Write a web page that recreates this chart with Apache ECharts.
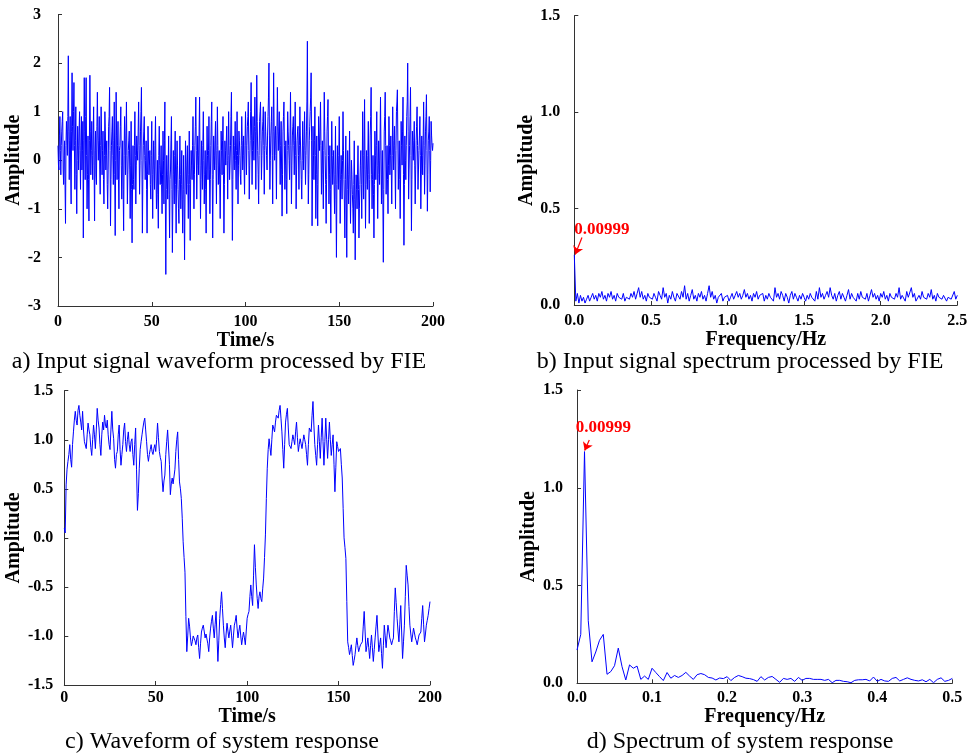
<!DOCTYPE html>
<html>
<head>
<meta charset="utf-8">
<script src="https://cdn.jsdelivr.net/npm/echarts@6/dist/echarts.min.js"></script>
<style>html,body{margin:0;padding:0;background:#fff;}#c{width:974px;height:756px;}</style>
</head>
<body>
<div id="c"></div>
<script>
// ---------- DATA ----------
// a) input waveform: samples every 0.5 s (aValues) plus the in-between samples at +0.25 s (aMidValues)
const aStep = 0.5; // s
const aValues = [
0.3,-0.2,0.9,-0.3,0.6,1.0,-0.5,0.4,-1.3,0.8,0.1,2.15,-0.4,0.9,-0.9,1.8,0.2,1.6,-0.6,1.1,
-1.1,0.7,-0.2,1.0,-0.6,0.9,0.2,-1.6,1.7,-0.4,1.7,-1.0,0.5,-1.25,1.75,-0.3,0.8,-0.4,1.1,-1.25,
0.6,-0.5,1.4,0.0,0.9,-0.7,1.1,-0.3,0.6,-0.9,1.0,-0.2,0.4,-1.0,0.7,1.5,-1.35,0.3,0.9,-0.5,
1.2,-1.55,1.4,-0.4,0.8,-1.0,0.3,1.1,-0.8,0.4,-1.45,0.9,-0.3,1.2,-0.9,0.2,0.6,-1.2,0.8,-1.7,
0.3,-0.6,1.0,-0.9,0.5,0.0,1.2,-0.7,0.6,1.5,-1.5,0.3,0.9,-0.4,0.4,-1.5,0.7,-0.3,0.2,-0.8,
0.8,-1.2,0.4,-0.6,0.9,-1.0,0.0,-1.4,0.7,-0.5,0.3,-1.1,0.6,-0.9,1.2,-2.35,0.1,-0.8,0.5,-1.6,
-0.2,0.9,-1.9,0.2,-0.9,0.6,-1.5,0.4,-0.6,-1.3,0.5,-1.0,0.2,-1.5,0.1,-2.05,0.4,-0.7,0.3,-1.2,
0.6,-1.65,0.2,-0.4,0.9,-1.0,0.3,1.3,-0.8,0.5,-0.3,1.3,-1.2,0.4,-0.6,1.0,-0.9,0.2,-1.5,0.7,
-0.4,0.9,-1.1,0.3,1.2,-1.6,0.5,-0.2,0.8,-0.9,1.1,-0.5,0.2,-1.2,0.6,-0.3,0.9,-1.5,0.4,-0.1,
0.7,-0.8,1.0,-0.4,0.3,1.4,-1.65,0.5,-0.2,0.8,-0.6,1.0,-0.9,0.6,0.1,-0.5,0.9,-0.2,0.5,-0.7,
1.0,-0.3,0.7,1.2,-0.8,0.4,1.6,-0.5,0.9,0.0,1.3,-0.6,1.75,0.2,-0.9,0.8,1.2,-0.4,0.6,1.1,
-0.7,1.0,0.3,-0.2,0.9,2.0,-0.6,0.5,1.1,-0.9,1.8,0.0,0.7,-0.8,1.5,0.2,1.0,-0.5,0.8,-1.15,
0.6,1.2,-0.6,0.4,-1.1,1.0,0.3,-0.4,1.4,-0.9,0.5,0.9,-0.3,1.2,-1.0,0.4,0.7,-0.6,1.1,0.0,
-0.8,0.8,-0.2,1.0,-0.5,0.6,2.45,-0.9,0.4,1.0,1.8,-1.35,0.7,-0.4,1.1,-1.2,0.5,-1.35,0.9,0.2,
1.2,-0.7,0.4,-1.0,1.4,0.1,-1.3,0.6,1.25,-0.9,0.3,-1.5,0.8,-0.5,0.2,-1.1,0.7,-2.0,0.3,-0.6,
0.9,-1.3,0.1,-0.8,1.0,-0.4,-1.6,0.5,-2.0,0.2,-0.9,0.6,-1.3,0.0,-0.7,-1.5,0.4,-2.05,-0.3,-1.0,
0.3,-1.6,-0.5,0.2,-1.2,1.0,-0.8,1.25,-1.4,0.2,-0.6,0.8,-1.3,0.5,1.5,-1.0,0.1,-1.6,0.6,-0.4,
1.0,-1.2,0.4,-0.5,1.3,-0.9,0.2,-2.1,0.6,1.4,-0.7,0.3,-1.1,0.9,-0.3,0.5,-0.9,1.1,-0.2,0.7,
-1.0,1.0,1.45,-0.6,0.4,-1.2,0.8,-0.1,1.3,-1.75,0.5,-0.4,0.9,2.0,-0.8,0.3,1.5,-1.45,0.6,0.0,
0.8,-0.9,0.4,1.1,-0.6,0.2,0.9,-1.0,0.5,-0.3,1.2,-0.7,0.6,1.35,-1.05,0.4,0.9,-0.65,0.8,0.3,0.35
];
const aMidValues = [
-0.1,0.5,0.2,0.3,0.8,-0.2,0.1,-0.5,0.3,0.5,0.9,0.6,0.4,-0.2,0.6,0.7,1.0,0.3,0.4,-0.3,
0.0,0.3,0.6,0.2,0.3,-0.2,0.8,0.4,0.6,0.9,0.1,-0.3,-0.4,0.4,0.6,0.2,0.1,0.5,-0.1,0.2,
-0.3,0.7,0.5,0.4,-0.2,0.3,0.5,0.2,-0.4,0.1,0.6,0.1,-0.5,-0.2,0.9,0.2,-0.4,0.6,0.1,0.4,
-0.3,0.0,0.5,0.3,-0.4,0.2,0.7,-0.1,-0.2,-0.6,0.1,0.4,0.5,0.1,-0.3,0.4,-0.2,-0.1,-0.6,-0.5,
-0.4,0.3,0.1,-0.1,0.2,0.6,0.3,-0.1,1.0,0.0,-0.4,0.6,0.1,0.0,-0.6,-0.3,0.2,-0.1,-0.5,0.1,
-0.3,-0.2,-0.1,0.3,-0.2,-0.6,-0.7,0.1,-0.1,-0.2,-0.5,-0.3,0.0,0.4,-0.8,-0.6,-0.3,-0.2,-0.7,-0.4,
0.4,-0.6,-0.8,-0.3,0.1,-0.5,-0.2,-0.1,-1.0,-0.4,-0.3,-0.5,-0.8,-0.6,-0.9,-0.7,-0.2,-0.1,-0.5,-0.3,
-0.5,-0.4,-0.1,0.3,-0.2,-0.3,0.7,0.2,-0.1,0.1,0.6,-0.1,-0.4,-0.1,0.3,0.0,-0.3,-0.6,-0.2,0.1,
0.2,-0.2,-0.4,0.8,-0.3,-0.4,0.1,0.4,-0.1,0.2,0.3,-0.1,-0.5,-0.3,0.2,0.4,-0.3,-0.5,0.2,0.4,
0.0,0.1,0.3,-0.1,0.9,-0.2,-0.4,0.1,0.3,0.0,0.2,0.1,-0.1,0.4,-0.3,0.3,0.4,0.1,-0.2,0.3,
0.4,0.3,0.9,0.2,-0.1,1.0,0.5,0.2,0.4,0.7,0.6,0.5,0.8,-0.3,0.1,1.0,0.4,0.1,0.8,0.3,
0.2,0.6,0.1,0.5,1.3,0.5,0.0,0.8,0.1,0.6,0.7,0.4,0.1,0.5,0.7,0.6,0.2,0.3,-0.2,-0.3,
0.9,0.3,-0.1,-0.4,0.2,0.6,0.0,0.5,0.3,-0.1,0.7,0.3,0.4,0.1,-0.2,0.6,0.1,0.3,0.5,-0.4,
0.0,0.3,0.4,0.2,0.1,1.2,0.5,-0.3,0.7,1.3,0.4,-0.4,0.1,0.4,0.1,-0.3,-0.5,-0.2,0.5,0.6,
0.3,-0.1,-0.3,0.2,0.6,-0.5,-0.4,0.9,0.1,-0.3,-0.6,-0.2,0.1,-0.1,-0.5,-0.3,-0.8,-0.5,-0.1,0.1,
-0.2,-0.4,-0.3,0.0,0.2,-0.9,-0.4,-0.8,-0.6,-0.3,-0.2,-0.4,-0.6,-0.3,-1.0,-0.5,-0.8,-0.9,-0.6,-0.3,
-0.6,-1.0,-0.1,-0.5,-0.2,0.1,0.2,-0.2,-0.5,-0.2,0.1,-0.3,-0.4,0.9,-0.3,-0.4,-0.7,-0.5,0.1,0.3,
-0.1,-0.3,0.0,0.4,0.2,-0.3,-0.8,-0.6,0.9,0.3,-0.2,-0.4,-0.1,0.3,0.1,-0.2,0.1,0.4,0.3,-0.1,
0.2,1.2,0.4,-0.1,-0.4,-0.2,0.3,0.6,-0.3,-0.5,0.0,0.3,1.2,0.6,-0.2,0.9,0.1,-0.4,0.3,0.4,
-0.1,-0.2,0.7,0.3,-0.2,0.5,0.1,-0.3,0.1,0.4,0.3,-0.1,0.9,0.2,-0.3,0.6,0.2,0.0,0.5,0.2
];

// b) input spectrum, every 0.01 Hz
const bStep = 0.01; // Hz
const bValues = [
0.26,0.02,0.06,0.01,0.05,0.02,0.04,0.01,0.03,0.05,
0.02,0.04,0.06,0.03,0.05,0.02,0.06,0.04,0.07,0.03,
0.05,0.02,0.06,0.04,0.07,0.03,0.05,0.02,0.06,0.04,
0.05,0.03,0.06,0.02,0.04,0.05,0.03,0.06,0.04,0.07,
0.03,0.06,0.09,0.04,0.07,0.03,0.05,0.02,0.06,0.04,
0.05,0.03,0.06,0.04,0.02,0.07,0.05,0.03,0.09,0.04,
0.06,0.01,0.05,0.03,0.07,0.04,0.02,0.06,0.05,0.03,
0.07,0.04,0.10,0.03,0.06,0.02,0.05,0.08,0.03,0.05,
0.02,0.06,0.04,0.07,0.03,0.05,0.02,0.06,0.10,0.04,
0.07,0.03,0.05,0.01,0.04,0.03,0.06,0.02,0.04,0.03,
0.05,0.02,0.04,0.06,0.03,0.05,0.07,0.04,0.06,0.03,
0.05,0.08,0.04,0.06,0.03,0.05,0.02,0.06,0.04,0.07,
0.03,0.05,0.04,0.06,0.02,0.05,0.03,0.06,0.04,0.05,
0.02,0.09,0.04,0.06,0.03,0.07,0.05,0.02,0.06,0.04,
0.01,0.05,0.07,0.03,0.06,0.04,0.02,0.05,0.03,0.06,
0.04,0.02,0.05,0.03,0.06,0.04,0.05,0.02,0.07,0.03,
0.09,0.04,0.06,0.03,0.05,0.07,0.04,0.09,0.05,0.03,
0.06,0.02,0.05,0.07,0.03,0.06,0.04,0.02,0.05,0.08,
0.03,0.06,0.04,0.05,0.02,0.06,0.03,0.07,0.04,0.05,
0.03,0.06,0.02,0.05,0.08,0.04,0.06,0.03,0.05,0.02,
0.06,0.04,0.07,0.03,0.05,0.02,0.06,0.04,0.05,0.03,
0.06,0.04,0.09,0.03,0.05,0.06,0.02,0.07,0.04,0.05,
0.09,0.04,0.06,0.02,0.01,0.05,0.03,0.07,0.04,0.05,
0.03,0.06,0.04,0.08,0.03,0.05,0.02,0.06,0.04,0.05,
0.03,0.05,0.06,0.02,0.04,0.05,0.03,0.04,0.07,0.03,
0.05
];

// c) system response: samples every 1 s (cValues) plus in-between samples at +0.5 s (cMidValues)
const cStep = 1; // s
const cValues = [
0.1,0.54,0.78,0.95,0.72,1.08,1.29,1.15,1.35,1.18,
1.29,0.98,0.91,1.17,1.05,0.84,1.15,0.91,1.32,1.12,
0.84,1.18,1.25,1.12,1.05,0.9,1.29,1.01,0.71,0.88,
1.15,0.74,0.95,1.17,0.88,1.08,0.88,1.01,0.74,1.12,
0.28,0.71,0.98,1.12,1.22,0.98,0.78,0.9,0.88,0.91,
0.88,1.17,0.88,0.78,0.47,0.64,0.98,1.08,0.44,0.61,
0.54,0.88,1.08,0.57,0.4,-0.04,-0.35,-1.16,-0.82,-1.02,
-1.06,-0.99,-1.09,-0.99,-1.23,-0.96,-0.89,-1.02,-0.96,-1.16,
-0.92,-0.79,-1.02,-0.75,-1.26,-0.82,-0.55,-0.89,-1.12,-0.87,
-1.02,-0.89,-1.12,-0.89,-0.79,-1.02,-0.89,-1.09,-0.96,-1.09,
-0.82,-0.75,-0.48,-0.69,-0.07,-0.48,-0.72,-0.55,-0.65,-0.41,
0.03,0.71,1.01,0.84,1.15,1.08,1.25,1.22,1.35,1.08,
0.71,1.18,1.32,0.95,0.91,1.05,0.95,1.18,0.88,1.01,
0.91,1.05,0.95,0.74,1.12,1.08,1.39,0.95,0.74,1.15,
0.81,1.22,0.74,1.22,0.81,1.18,0.84,1.05,0.47,0.98,
0.88,0.91,0.61,0.0,-0.21,-1.06,-1.19,-1.09,-1.3,-1.19,
-1.02,-1.16,-1.09,-1.06,-0.75,-1.16,-1.02,-1.23,-0.99,-1.26,
-1.02,-0.79,-1.16,-1.02,-1.33,-0.89,-1.12,-0.89,-1.02,-1.09,
-1.02,-0.51,-0.82,-1.06,-0.69,-1.23,-0.89,-0.28,-0.48,-0.89,
-1.06,-0.92,-1.02,-1.09,-0.99,-0.96,-0.69,-1.06,-0.89,-0.79,
-0.65
];
const cMidValues = [
0.05,0.7,0.85,0.8,0.95,1.2,1.2,1.3,1.25,1.1,
1.1,1.0,1.05,1.1,0.92,1.0,1.05,1.1,1.2,0.95,
1.05,1.1,1.15,1.2,0.95,1.1,1.1,0.8,0.85,1.05,
0.9,0.85,1.1,0.98,1.0,0.95,0.98,0.85,0.95,0.7,
0.45,0.9,1.05,1.18,1.1,0.85,0.85,0.95,0.85,0.95,
1.0,1.02,0.82,0.6,0.58,0.85,1.1,0.75,0.55,0.55,
0.7,1.0,0.8,0.5,0.2,-0.2,-0.8,-1.0,-0.9,-1.1,
-1.0,-1.05,-1.02,-1.12,-1.08,-0.92,-0.95,-0.98,-1.08,-1.02,
-0.85,-0.92,-0.88,-1.0,-1.05,-0.68,-0.72,-1.02,-0.98,-0.95,
-0.95,-1.0,-1.0,-0.85,-0.92,-0.95,-1.0,-1.02,-1.02,-0.95,
-0.78,-0.6,-0.6,-0.38,-0.3,-0.62,-0.6,-0.62,-0.52,-0.2,
0.4,0.9,0.92,1.0,1.12,1.18,1.24,1.3,1.22,0.9,
0.95,1.26,1.12,0.93,0.98,1.0,1.08,1.02,0.95,0.96,
0.98,1.0,0.85,0.95,1.1,1.25,1.15,0.84,0.95,0.98,
1.02,0.98,0.98,1.0,1.0,1.0,0.95,0.75,0.72,0.93,
0.9,0.75,0.3,-0.1,-0.65,-1.12,-1.14,-1.2,-1.25,-1.1,
-1.1,-1.12,-1.08,-0.9,-0.95,-1.1,-1.12,-1.1,-1.12,-1.14,
-0.9,-0.98,-1.09,-1.18,-1.1,-1.0,-1.0,-0.95,-1.05,-1.05,
-0.75,-0.66,-0.95,-0.88,-0.96,-1.06,-0.6,-0.38,-0.7,-0.98,
-0.99,-0.97,-1.05,-1.04,-0.97,-0.82,-0.88,-0.98,-0.84,-0.72
];

// d) response spectrum, every 0.005 Hz
const dStep = 0.005; // Hz
const dValues = [
0.17,0.25,1.185,0.32,0.11,0.16,0.22,0.25,0.046,0.06,
0.09,0.18,0.085,0.017,0.094,0.077,0.088,0.02,0.037,0.02,
0.077,0.055,0.034,0.014,0.055,0.026,0.04,0.03,0.04,0.056,
0.037,0.02,0.044,0.05,0.044,0.03,0.027,0.017,0.027,0.024,
0.034,0.014,0.03,0.04,0.034,0.026,0.024,0.019,0.01,0.034,
0.017,0.03,0.035,0.02,0.005,0.025,0.02,0.025,0.01,0.03,
0.015,0.025,0.025,0.02,0.02,0.02,0.015,0.02,0.003,0.015,
0.015,0.01,0.008,0.003,0.015,0.018,0.018,0.02,0.012,0.032,
0.01,0.02,0.012,0.01,0.025,0.03,0.012,0.02,0.028,0.02,
0.015,0.012,0.018,0.008,0.02,0.003,0.02,0.028,0.01,0.015,
0.025
];

const peakLabel = '0.00999';
const captions = [
  'a) Input signal waveform processed by FIE',
  'b) Input signal spectrum processed by FIE',
  'c) Waveform of system response',
  'd) Spectrum of system response'
];

// ---------- CHART ----------
const FONT = "'Liberation Serif','Times New Roman',serif";
const toPairs = (vals, step) => vals.map((v, i) => [+(i * step).toFixed(4), v]);
function interleave(vals, mids, step) {
  const out = [];
  vals.forEach((v, i) => {
    out.push([+(i * step).toFixed(4), v]);
    if (i < mids.length) out.push([+(i * step + step / 2).toFixed(4), mids[i]]);
  });
  return out;
}

function xAx(grid, min, max, interval, name, nameGap, margin, dec) {
  return {
    type: 'value', gridIndex: grid, min, max, interval,
    name, nameLocation: 'middle', nameGap,
    nameTextStyle: { fontFamily: FONT, fontWeight: 'bold', fontSize: 20, color: '#000' },
    axisLine: { show: true, onZero: false, lineStyle: { color: '#333', width: 1 } },
    axisTick: { show: true, inside: true, length: 4, lineStyle: { color: '#333' } },
    axisLabel: { fontFamily: FONT, fontWeight: 'bold', fontSize: 16, color: '#000', margin,
      showMinLabel: true, showMaxLabel: true,
      formatter: v => dec == null ? String(v) : v.toFixed(dec) },
    splitLine: { show: false }
  };
}
function yAx(grid, min, max, interval, nameGap, margin, dec) {
  return {
    type: 'value', gridIndex: grid, min, max, interval,
    name: 'Amplitude', nameLocation: 'middle', nameGap,
    nameTextStyle: { fontFamily: FONT, fontWeight: 'bold', fontSize: 20, color: '#000' },
    axisLine: { show: true, onZero: false, lineStyle: { color: '#333', width: 1 } },
    axisTick: { show: true, inside: true, length: 4, lineStyle: { color: '#333' } },
    axisLabel: { fontFamily: FONT, fontWeight: 'bold', fontSize: 16, color: '#000', margin,
      showMinLabel: true, showMaxLabel: true,
      formatter: v => dec == null ? String(v) : v.toFixed(dec) },
    splitLine: { show: false }
  };
}
const lineStyle = { color: '#0000ff', width: 1 };
function annot(textCoord, from, to) {
  return {
    markLine: {
      silent: true, symbol: ['none', 'arrow'], symbolSize: 8, animation: false,
      lineStyle: { color: '#ff0000', type: 'solid', width: 1.2 },
      label: { show: false },
      data: [[{ coord: from }, { coord: to }]]
    },
    markPoint: {
      silent: true, symbol: 'circle', symbolSize: 1, animation: false,
      itemStyle: { color: 'rgba(0,0,0,0)' },
      label: { show: true, position: 'inside', formatter: peakLabel, color: '#ff0000',
        fontFamily: FONT, fontWeight: 'bold', fontSize: 17 },
      data: [{ coord: textCoord }]
    }
  };
}

const chart = echarts.init(document.getElementById('c'), null, { renderer: 'canvas' });
chart.setOption({
  animation: false,
  backgroundColor: '#fff',
  grid: [
    { left: 58, top: 14.5, width: 375, height: 291.5 },
    { left: 574.3, top: 15.7, width: 383, height: 289.3 },
    { left: 64.3, top: 390.7, width: 365.7, height: 294.3 },
    { left: 577, top: 390, width: 375.3, height: 293.3 }
  ],
  xAxis: [
    xAx(0, 0, 200, 50, 'Time/s', 21, 8, null),
    xAx(1, 0, 2.5, 0.5, 'Frequency/Hz', 22, 8, 1),
    xAx(2, 0, 200, 50, 'Time/s', 18, 5, null),
    xAx(3, 0, 0.5, 0.1, 'Frequency/Hz', 21, 7, 1)
  ],
  yAxis: [
    yAx(0, -3, 3, 1, 33, 17, null),
    yAx(1, 0, 1.5, 0.5, 36, 14, 1),
    yAx(2, -1.5, 1.5, 0.5, 35, 11, 1),
    yAx(3, 0, 1.5, 0.5, 33, 14, 1)
  ],
  series: [
    { type: 'line', xAxisIndex: 0, yAxisIndex: 0, data: interleave(aValues, aMidValues, aStep), showSymbol: false, symbol: 'none', lineStyle },
    Object.assign({ type: 'line', xAxisIndex: 1, yAxisIndex: 1, data: toPairs(bValues, bStep), showSymbol: false, symbol: 'none', lineStyle },
      annot([0.18, 0.39], [0.05, 0.35], [0.006, 0.262])),
    { type: 'line', xAxisIndex: 2, yAxisIndex: 2, data: interleave(cValues, cMidValues, cStep), showSymbol: false, symbol: 'none', lineStyle },
    Object.assign({ type: 'line', xAxisIndex: 3, yAxisIndex: 3, data: toPairs(dValues, dStep), showSymbol: false, symbol: 'none', lineStyle },
      annot([0.0353, 1.306], [0.0164, 1.244], [0.0102, 1.19]))
  ],
  graphic: [
    { type: 'text', x: 219, y: 362, style: { text: captions[0], fontFamily: FONT, fontSize: 24, fill: '#000', align: 'center', verticalAlign: 'middle' } },
    { type: 'text', x: 740, y: 362, style: { text: captions[1], fontFamily: FONT, fontSize: 24, fill: '#000', align: 'center', verticalAlign: 'middle' } },
    { type: 'text', x: 222, y: 742, style: { text: captions[2], fontFamily: FONT, fontSize: 24, fill: '#000', align: 'center', verticalAlign: 'middle' } },
    { type: 'text', x: 740, y: 742, style: { text: captions[3], fontFamily: FONT, fontSize: 24, fill: '#000', align: 'center', verticalAlign: 'middle' } }
  ]
});
</script>
</body>
</html>
